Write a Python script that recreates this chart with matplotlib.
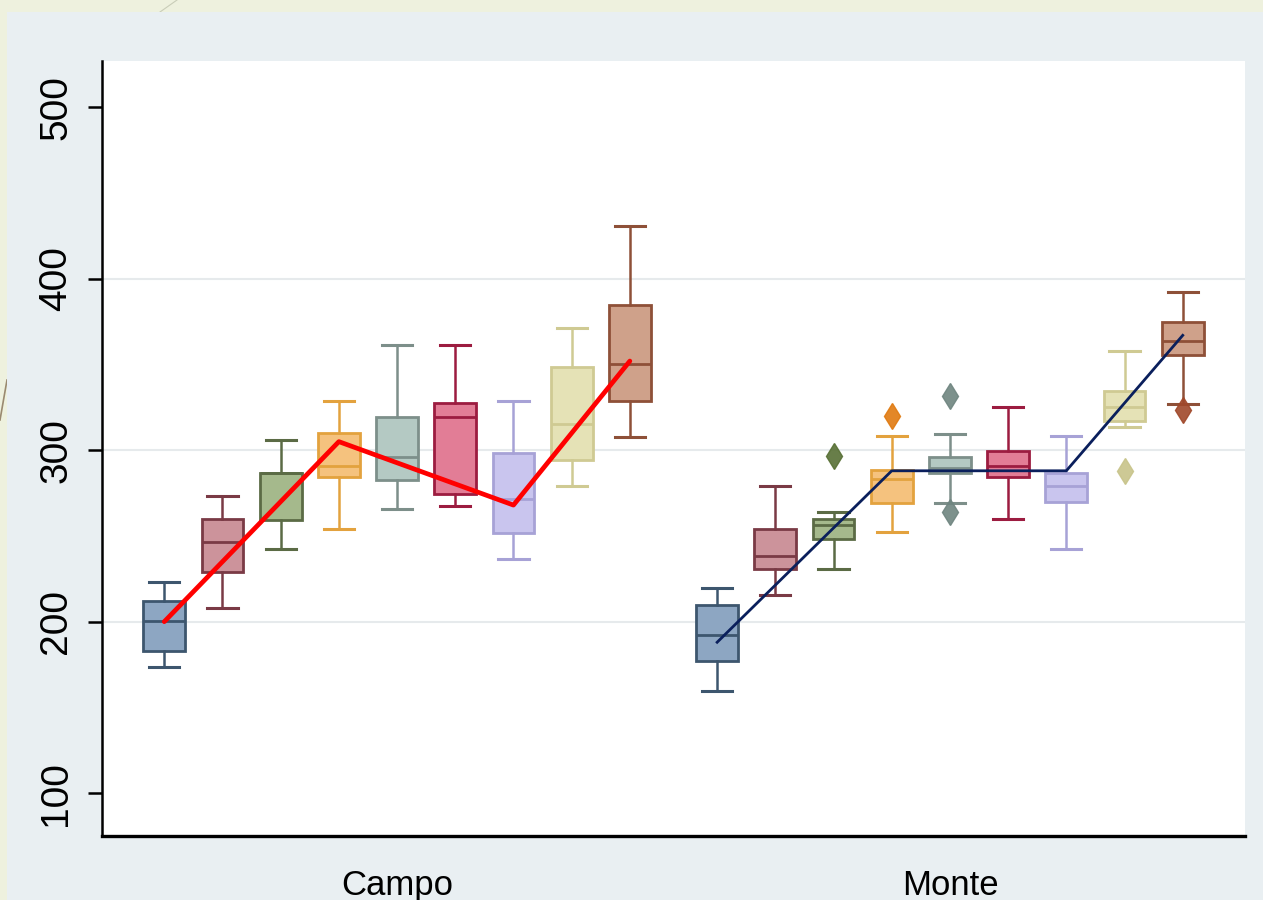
import matplotlib.pyplot as plt
from matplotlib.lines import Line2D
from matplotlib.patches import Rectangle

# grupos y cajas
grupos = ["Campo", "Monte"]

campo_whislo = [173.5, 207.9, 242.4, 254.0, 265.6, 267.6, 236.7, 279.0, 307.5]
campo_q1 = [182.9, 229.1, 259.5, 284.5, 282.5, 274.7, 251.7, 294.3, 328.7]
campo_med = [200.2, 246.6, 286.6, 290.6, 296.3, 319.4, 271.7, 315.5, 350.1]
campo_q3 = [212.0, 260.0, 286.6, 310.0, 319.4, 327.3, 298.2, 348.3, 384.7]
campo_whishi = [223.2, 273.1, 305.9, 328.9, 361.5, 361.5, 328.9, 371.1, 430.5]
campo_fliers = [[], [], [], [], [], [], [], [], []]

monte_whislo = [159.7, 215.5, 230.9, 252.1, 269.2, 259.8, 242.3, 313.5, 326.8]
monte_q1 = [176.8, 230.9, 248.0, 269.2, 286.5, 284.4, 269.6, 317.0, 355.8]
monte_med = [192.5, 238.3, 256.4, 283.0, 289.9, 290.9, 279.0, 325.3, 363.6]
monte_q3 = [209.8, 254.1, 260.0, 288.3, 296.2, 299.7, 286.5, 334.7, 375.0]
monte_whishi = [219.5, 278.9, 263.9, 308.0, 309.5, 325.3, 308.0, 357.7, 392.1]
monte_fliers = [[], [], [296.4], [320.0], [331.6, 263.9], [], [], [287.9], [323.3]]

# lineas de tendencia (caja 1, 4, 7, 9)
linea_cajas = [0, 3, 6, 8]
campo_linea = [200, 305, 268, 352]
monte_linea = [188, 288, 288, 367]

relleno = ["#8da6c2", "#cc939b", "#a5b98c", "#f5c27e", "#b4c9c3",
           "#e27d96", "#c9c5ee", "#e5e2b6", "#cfa18a"]
borde = ["#3d566e", "#7a3a45", "#5b6b45", "#e3a23e", "#7d8f8a",
         "#9c1c40", "#a7a2d6", "#cfca93", "#8e5038"]
color_outlier = ["#3d566e", "#7a3a45", "#587035", "#e07a10", "#6f8580",
                 "#9c1c40", "#a7a2d6", "#c8c48a", "#a0482a"]

n = len(relleno)
pos_campo = [i for i in range(n)]
pos_monte = [i + n + 0.5 for i in range(n)]

fig = plt.figure(figsize=(12.63, 9.0), dpi=100)
fig.patch.set_facecolor("#eef1de")
fig.patches.append(Rectangle((7 / 1263, 0), 1, 1 - 12 / 900, transform=fig.transFigure,
                             facecolor="#e9eff2", edgecolor="none", zorder=-10))
fig.lines.append(Line2D([177 / 1263, 160 / 1263], [1, 1 - 12 / 900], transform=fig.transFigure,
                        color="#c9cdb8", lw=0.8, zorder=-10))
fig.lines.append(Line2D([7 / 1263, 0], [1 - 380 / 900, 1 - 420 / 900], transform=fig.transFigure,
                        color="#9a8a70", lw=1.2, zorder=-10))

ax = fig.add_axes([102 / 1263, 1 - 836 / 900, (1245 - 102) / 1263, (836 - 61) / 900])
ax.set_facecolor("white")
ax.set_zorder(5)


def dibujar(posiciones, wlo, q1, med, q3, whi, fliers):
    for i in range(n):
        stats = [{"whislo": wlo[i], "q1": q1[i], "med": med[i], "q3": q3[i],
                  "whishi": whi[i], "fliers": fliers[i]}]
        ax.bxp(stats, positions=[posiciones[i]], widths=0.72, patch_artist=True,
               showfliers=True, capwidths=0.52, manage_ticks=False,
               boxprops=dict(facecolor=relleno[i], edgecolor=borde[i], linewidth=2.0),
               medianprops=dict(color=borde[i], linewidth=2.0),
               whiskerprops=dict(color=borde[i], linewidth=1.8),
               capprops=dict(color=borde[i], linewidth=2.2),
               flierprops=dict(marker="d", markersize=13, markerfacecolor=color_outlier[i],
                               markeredgecolor=color_outlier[i], alpha=0.9))


dibujar(pos_campo, campo_whislo, campo_q1, campo_med, campo_q3, campo_whishi, campo_fliers)
dibujar(pos_monte, monte_whislo, monte_q1, monte_med, monte_q3, monte_whishi, monte_fliers)

ax.plot([pos_campo[i] for i in linea_cajas], campo_linea, color="#ff0000", lw=3.4,
        solid_capstyle="round", zorder=5)
ax.plot([pos_monte[i] for i in linea_cajas], monte_linea, color="#0a1f5c", lw=2.0, zorder=5)

ax.set_xlim(-1.07, pos_monte[-1] + 1.07)
ax.set_ylim(75, 527)
ax.set_yticks([100, 200, 300, 400, 500])
for v in [200, 300, 400]:
    ax.axhline(v, color="#e6eaec", lw=1.5, zorder=0)

ax.set_xticks([sum(pos_campo) / n, sum(pos_monte) / n])
ax.set_xticklabels(grupos, fontsize=25, family="Liberation Sans")
ax.tick_params(axis="x", length=0, pad=24)
ax.tick_params(axis="y", length=10, width=1.8, pad=10, labelsize=28)
for lab in ax.get_yticklabels():
    lab.set_rotation(90)
    lab.set_va("center")
    lab.set_family("Liberation Sans")

ax.spines["top"].set_visible(False)
ax.spines["right"].set_visible(False)
ax.spines["left"].set_linewidth(1.8)
ax.spines["bottom"].set_linewidth(2.4)

fig.savefig("out.png", dpi=100, facecolor=fig.get_facecolor())
